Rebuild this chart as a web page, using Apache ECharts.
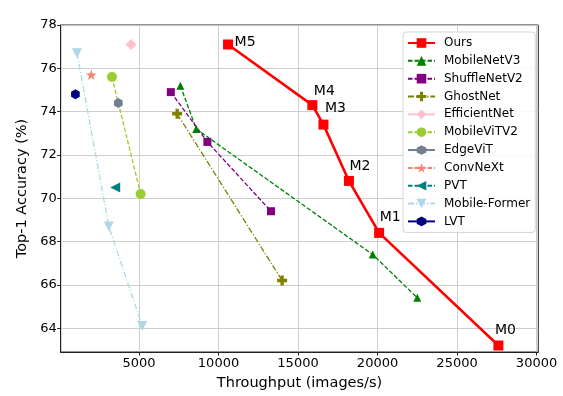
<!DOCTYPE html>
<html>
<head>
<meta charset="utf-8">
<script src="https://cdn.jsdelivr.net/npm/echarts@6/dist/echarts.min.js"></script>
<style>
  html, body { margin: 0; padding: 0; background: #fff; }
  #chart { width: 563px; height: 396px; }
</style>
</head>
<body>
<div id="chart"></div>
<script>
// Données (débit en images/s, précision top-1 en %)
const oursX = [10600, 15900, 16600, 18200, 20100, 27600];
const oursY = [77.1, 74.3, 73.4, 70.8, 68.4, 63.2];
const oursLabels = ['M5', 'M4', 'M3', 'M2', 'M1', 'M0'];

const mobileNetV3X = [7600, 8600, 19700, 22500];
const mobileNetV3Y = [75.2, 73.2, 67.4, 65.4];
const shuffleNetV2X = [7000, 9300, 13300];
const shuffleNetV2Y = [74.9, 72.6, 69.4];
const ghostNetX = [7400, 14000];
const ghostNetY = [73.9, 66.2];
const efficientNetX = [4500];
const efficientNetY = [77.1];
const mobileViTV2X = [3300, 5100];
const mobileViTV2Y = [75.6, 70.2];
const edgeViTX = [3700];
const edgeViTY = [74.4];
const convNeXtX = [2000];
const convNeXtY = [75.7];
const pvtX = [3500];
const pvtY = [70.5];
const mobileFormerX = [1100, 3100, 5200];
const mobileFormerY = [76.7, 68.7, 64.1];
const lvtX = [1000];
const lvtY = [74.8];

const xTicks = [5000, 10000, 15000, 20000, 25000, 30000];
const yTicks = [64, 66, 68, 70, 72, 74, 76, 78];

// Décalage des étiquettes M0..M5 (style)
const labelOffsets = [[1.5, -2], [-3.5, -14], [-3.5, -16], [-4.5, -15], [-4.5, -16], [-8.5, -15]];

const hexagon = 'path://M0,-1 L0.866,-0.5 L0.866,0.5 L0,1 L-0.866,0.5 L-0.866,-0.5 Z';
const star = 'path://M0,-1 L0.2245,-0.309 L0.951,-0.309 L0.363,0.118 L0.588,0.809 L0,0.382 L-0.588,0.809 L-0.363,0.118 L-0.951,-0.309 L-0.2245,-0.309 Z';
const plus = 'path://M1,0 L2,0 L2,1 L3,1 L3,2 L2,2 L2,3 L1,3 L1,2 L0,2 L0,1 L1,1 Z';

const dashed = [4.5, 2];
const dashDot = [6, 2, 1.2, 2];

function zip(xs, ys) {
    return xs.map((x, i) => [x, ys[i]]);
}

function makeSeries(name, xs, ys, color, symbol, size, dash, width, extra) {
    return Object.assign({
        name: name,
        type: 'line',
        data: zip(xs, ys),
        symbol: symbol,
        symbolSize: size,
        symbolKeepAspect: true,
        showAllSymbol: true,
        animation: false,
        itemStyle: { color: color, borderWidth: 0 },
        lineStyle: { color: color, width: width, type: dash }
    }, extra || {});
}

const chart = echarts.init(document.getElementById('chart'));

const oursData = zip(oursX, oursY).map((p, i) => ({
    value: p,
    label: {
        show: true,
        formatter: oursLabels[i],
        position: 'right',
        distance: 0,
        offset: labelOffsets[i],
        color: '#000',
        fontSize: 14,
        fontFamily: 'DejaVu Sans'
    }
}));

const series = [
    makeSeries('Ours', oursX, oursY, '#ff0000', 'rect', 10, 'solid', 2.6, { data: oursData, z: 5 }),
    makeSeries('MobileNetV3', mobileNetV3X, mobileNetV3Y, '#008000', 'triangle', 8, dashed, 1.3),
    makeSeries('ShuffleNetV2', shuffleNetV2X, shuffleNetV2Y, '#800080', 'rect', 8, dashed, 1.3),
    makeSeries('GhostNet', ghostNetX, ghostNetY, '#808000', plus, 10, dashDot, 1.3),
    makeSeries('EfficientNet', efficientNetX, efficientNetY, '#ffc0cb', 'diamond', 11, 'solid', 1.5),
    makeSeries('MobileViTV2', mobileViTV2X, mobileViTV2Y, '#9acd32', 'circle', 10, dashed, 1.3),
    makeSeries('EdgeViT', edgeViTX, edgeViTY, '#708090', hexagon, 10, 'solid', 1.5),
    makeSeries('ConvNeXt', convNeXtX, convNeXtY, '#fa8072', star, 11, dashed, 1.3),
    makeSeries('PVT', pvtX, pvtY, '#008080', 'triangle', 10, dashed, 1.3, { symbolRotate: 90 }),
    makeSeries('Mobile-Former', mobileFormerX, mobileFormerY, '#add8e6', 'triangle', 10, dashDot, 1.3, { symbolRotate: 180 }),
    makeSeries('LVT', lvtX, lvtY, '#000080', hexagon, 10, 'solid', 1.5)
];

const axisFont = { color: '#000', fontSize: 13, fontFamily: 'DejaVu Sans' };

chart.setOption({
    backgroundColor: '#fff',
    animation: false,
    grid: {
        left: 60.7, right: 24.7, top: 25, bottom: 43.7,
        show: true, borderColor: '#222', borderWidth: 1, backgroundColor: 'transparent'
    },
    xAxis: {
        type: 'value',
        min: 75,
        max: 30110,
        name: 'Throughput (images/s)',
        nameLocation: 'middle',
        nameGap: 24,
        nameTextStyle: { color: '#000', fontSize: 14.5, fontFamily: 'DejaVu Sans' },
        axisLine: { show: true, onZero: false, lineStyle: { color: '#222', width: 1 } },
        axisTick: { show: true, length: 3.5, customValues: xTicks, lineStyle: { color: '#222' } },
        axisLabel: Object.assign({ margin: 5, customValues: xTicks, formatter: v => String(v) }, axisFont),
        splitLine: { show: true, lineStyle: { color: '#c8c8c8', width: 0.9 } }
    },
    yAxis: {
        type: 'value',
        min: 62.9,
        max: 78,
        name: 'Top-1 Accuracy (%)',
        nameLocation: 'middle',
        nameGap: 31,
        nameTextStyle: { color: '#000', fontSize: 14.5, fontFamily: 'DejaVu Sans' },
        axisLine: { show: true, onZero: false, lineStyle: { color: '#222', width: 1 } },
        axisTick: { show: true, length: 3.5, customValues: yTicks, lineStyle: { color: '#222' } },
        axisLabel: Object.assign({ margin: 4, customValues: yTicks }, axisFont),
        splitLine: { show: true, lineStyle: { color: '#c8c8c8', width: 0.9 } }
    },
    legend: {
        orient: 'vertical',
        left: 403,
        top: 32,
        padding: [5, 5, 5, 4],
        itemWidth: 27,
        itemHeight: 12,
        itemGap: 5.84,
        backgroundColor: 'rgba(255,255,255,0.85)',
        borderColor: '#d4d4d4',
        borderWidth: 1,
        borderRadius: 3,
        textStyle: { color: '#000', fontSize: 12, lineHeight: 12, fontFamily: 'DejaVu Sans', padding: [0, 0, 0, 4] },
        data: series.map(s => s.name)
    },
    series: series
});
</script>
</body>
</html>
